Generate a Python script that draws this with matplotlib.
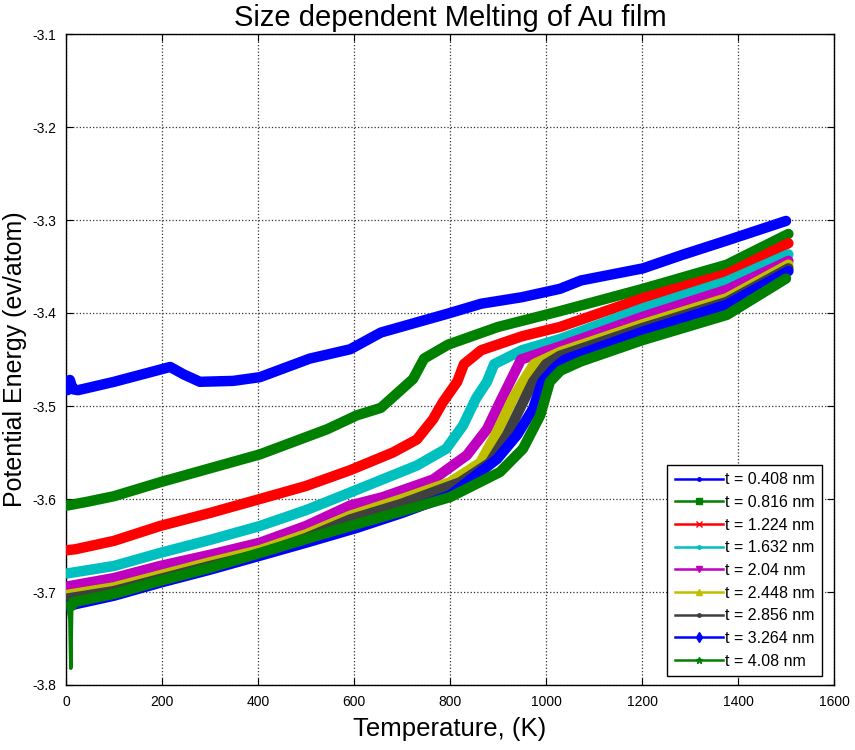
import matplotlib
matplotlib.use("Agg")
import matplotlib.pyplot as plt
from matplotlib.lines import Line2D

plt.rcParams['font.family'] = ['Liberation Sans', 'DejaVu Sans']
plt.rcParams['axes.unicode_minus'] = False

# film thickness labels
labels = ['t = 0.408 nm', 't = 0.816 nm', 't = 1.224 nm', 't = 1.632 nm', 't = 2.04 nm',
          't = 2.448 nm', 't = 2.856 nm', 't = 3.264 nm', 't = 4.08 nm']

# temperature (K) / potential energy (eV/atom)
T1 = [3, 8, 14, 25, 100, 217, 245, 279, 348, 404, 508, 592, 656, 800, 865, 950, 1029, 1073, 1202, 1281, 1377, 1500]
E1 = [-3.483, -3.472, -3.482, -3.483, -3.474, -3.458, -3.466, -3.474, -3.473, -3.469, -3.449, -3.439,
      -3.421, -3.400, -3.390, -3.383, -3.374, -3.365, -3.352, -3.338, -3.322, -3.301]

T2 = [3, 44, 100, 196, 300, 404, 544, 606, 656, 723, 746, 796, 900, 1029, 1202, 1377, 1505]
E2 = [-3.607, -3.603, -3.597, -3.582, -3.567, -3.552, -3.525, -3.510, -3.502, -3.471, -3.449, -3.434,
      -3.415, -3.398, -3.374, -3.348, -3.315]

T3 = [3, 20, 100, 196, 300, 404, 500, 592, 681, 731, 765, 785, 815, 829, 865, 950, 1029, 1202, 1377, 1505]
E3 = [-3.655, -3.654, -3.645, -3.629, -3.615, -3.600, -3.586, -3.569, -3.550, -3.536, -3.514, -3.496,
      -3.474, -3.455, -3.440, -3.425, -3.415, -3.384, -3.358, -3.325]

T4 = [3, 100, 196, 300, 404, 500, 592, 731, 792, 827, 854, 877, 892, 950, 1029, 1202, 1377, 1505]
E4 = [-3.680, -3.672, -3.658, -3.644, -3.629, -3.612, -3.593, -3.564, -3.546, -3.521, -3.492, -3.474,
      -3.455, -3.440, -3.428, -3.395, -3.366, -3.337]

T5 = [3, 100, 196, 300, 404, 500, 592, 660, 765, 835, 877, 904, 925, 948, 1029, 1202, 1377, 1505]
E5 = [-3.694, -3.685, -3.672, -3.660, -3.647, -3.629, -3.607, -3.598, -3.579, -3.553, -3.525, -3.496,
      -3.474, -3.450, -3.436, -3.404, -3.375, -3.344]

T6 = [3, 100, 196, 300, 404, 500, 592, 700, 800, 863, 898, 931, 952, 975, 1029, 1202, 1377, 1505]
E6 = [-3.703, -3.695, -3.682, -3.668, -3.655, -3.638, -3.618, -3.600, -3.582, -3.561, -3.528, -3.492,
      -3.474, -3.455, -3.442, -3.412, -3.384, -3.348]

T7 = [3, 100, 196, 300, 404, 500, 592, 700, 821, 883, 919, 952, 973, 1000, 1029, 1202, 1377, 1505]
E7 = [-3.707, -3.699, -3.686, -3.672, -3.659, -3.642, -3.622, -3.605, -3.582, -3.561, -3.531, -3.496,
      -3.474, -3.455, -3.446, -3.416, -3.388, -3.352]

T8 = [3, 100, 196, 300, 404, 500, 606, 700, 800, 898, 940, 973, 992, 1020, 1040, 1202, 1377, 1505]
E8 = [-3.715, -3.704, -3.690, -3.676, -3.661, -3.647, -3.631, -3.615, -3.596, -3.557, -3.531, -3.503,
      -3.474, -3.458, -3.450, -3.420, -3.391, -3.355]

T9 = [3, 8, 10, 12, 15, 100, 196, 300, 404, 500, 606, 700, 800, 904, 952, 988, 1008, 1030, 1073, 1202, 1377, 1500]
E9 = [-3.712, -3.730, -3.782, -3.715, -3.711, -3.702, -3.688, -3.674, -3.658, -3.643, -3.627, -3.613,
      -3.598, -3.571, -3.546, -3.510, -3.474, -3.462, -3.452, -3.429, -3.402, -3.363]

series_T = [T1, T2, T3, T4, T5, T6, T7, T8, T9]
series_E = [E1, E2, E3, E4, E5, E6, E7, E8, E9]
colors = ['#0000ff', '#008000', '#ff0000', '#00bfbf', '#bf00bf', '#bfbf00', '#404040', '#0000ff', '#008000']
markers = ['.', 's', 'x', '.', 'v', '^', '.', 'd', '*']

fig = plt.figure(figsize=(8.55, 7.5), dpi=100)
ax = fig.add_axes([66 / 855, 1 - 685 / 750, 768 / 855, 651 / 750])

for i in range(len(series_T)):
    if i == 8:
        # spike at the very start is drawn thin, the rest thick like the dense markers
        ax.plot(series_T[i][:5], series_E[i][:5], color=colors[i], lw=2.5, zorder=3 + i)
        ax.plot(series_T[i][3:], series_E[i][3:], color=colors[i], lw=7.5,
                solid_capstyle='round', solid_joinstyle='round', zorder=3 + i)
    else:
        ax.plot(series_T[i], series_E[i], color=colors[i], lw=7.5,
                solid_capstyle='round', solid_joinstyle='round', zorder=3 + i)

ax.set_xlim(0, 1600)
ax.set_ylim(-3.8, -3.1)
ax.set_xticks(range(0, 1601, 200))
ax.set_yticks([-3.8, -3.7, -3.6, -3.5, -3.4, -3.3, -3.2, -3.1])
ax.set_yticklabels(['-3.8', '-3.7', '-3.6', '-3.5', '-3.4', '-3.3', '-3.2', '-3.1'])
ax.tick_params(direction='in', top=True, right=True, length=5, labelsize=10, pad=7)
ax.grid(True, linestyle=':', color='#333333', lw=0.9)
for sp in ax.spines.values():
    sp.set_linewidth(1.0)

ax.set_title('Size dependent Melting of Au film', fontsize=21, pad=6)
ax.set_xlabel('Temperature, (K)', fontsize=18.5, labelpad=6)
ax.set_ylabel('Potential Energy (ev/atom)', fontsize=18, labelpad=4)

handles = [Line2D([0], [0], color=colors[i], lw=1.8, marker=markers[i], markersize=5)
           for i in range(len(labels))]
leg = ax.legend(handles, labels, loc='lower right', bbox_to_anchor=(0.984, 0.014),
                borderaxespad=0, fontsize=11.5, labelspacing=0.48, handlelength=3.0,
                handletextpad=0.15, borderpad=0.45, fancybox=False, framealpha=1,
                edgecolor='black')
leg.get_frame().set_linewidth(1.0)
leg.set_zorder(20)

fig.savefig('out.png', dpi=100)
